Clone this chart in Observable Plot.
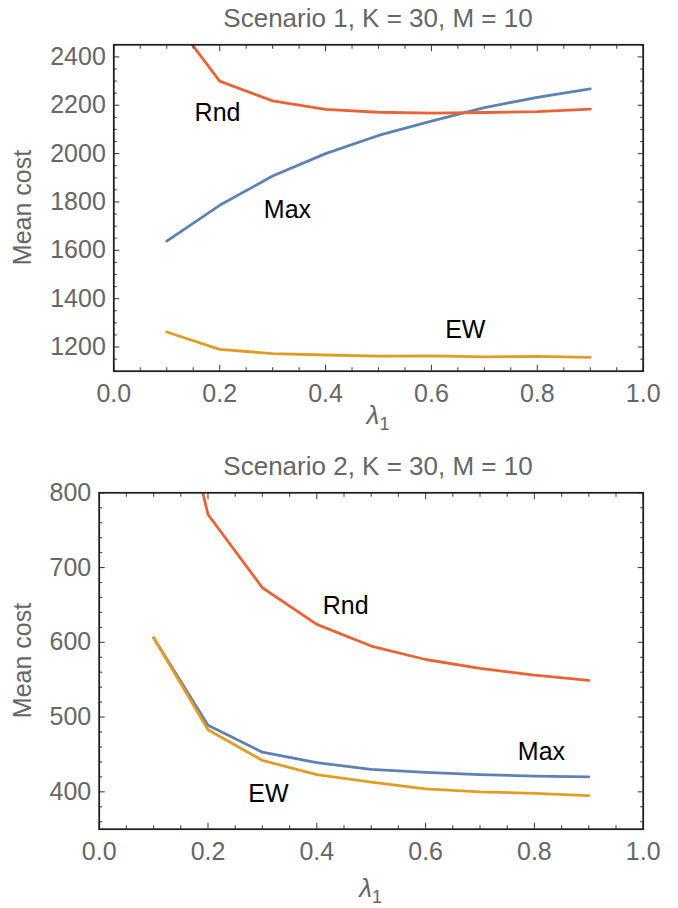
<!DOCTYPE html>
<html><head><meta charset="utf-8">
<script src="https://cdn.jsdelivr.net/npm/d3@7"></script>
<script src="https://cdn.jsdelivr.net/npm/@observablehq/plot@0.6"></script>
<style>
body{margin:0;background:#fff;font-family:"Liberation Sans",Arial,sans-serif;}
#wrap{position:relative;width:678px;height:908px;overflow:hidden;background:#fff}
.panel{position:absolute;left:0}
.title{position:absolute;left:113px;width:530px;text-align:center;font-size:26px;line-height:26px;color:#666;white-space:nowrap}
.xlab{position:absolute;left:113px;width:530px;text-align:center;font-size:26px;line-height:26px;color:#666;white-space:nowrap}
.xlab i{font-style:italic}
.xlab sub{font-size:18px;vertical-align:-6px;line-height:0}
.ylab{position:absolute;width:200px;text-align:center;font-size:25px;line-height:25px;color:#666;white-space:nowrap;transform:rotate(-90deg)}
</style></head><body><div id="wrap"></div><script>
// ---- data ----
const lambdas = [0.1, 0.2, 0.3, 0.4, 0.5, 0.6, 0.7, 0.8, 0.9];
const s1Max = [1638, 1786, 1907, 2000, 2075, 2134, 2190, 2233, 2268];
const s1EW  = [1262, 1190, 1173, 1167, 1162, 1163, 1159, 1161, 1157];
const s1Rnd = [2590, 2300, 2218, 2183, 2171, 2167, 2170, 2174, 2184];
const s2Max = [606, 489, 453, 439, 430, 426, 423, 421, 420];
const s2EW  = [606, 483, 442, 423, 413, 404, 400, 398, 395];
const s2Rnd = [1075, 771, 673, 624, 595, 577, 565, 556, 549];
const seriesNames = ["Max", "EW", "Rnd"];
const seriesColors = ["#5E81B5", "#E19C24", "#EB6235"];
const labels1 = [{name: "Rnd", lambda: 0.196, cost: 2166}, {name: "Max", lambda: 0.328, cost: 1765}, {name: "EW", lambda: 0.664, cost: 1269}];
const labels2 = [{name: "Rnd", lambda: 0.453, cost: 649}, {name: "Max", lambda: 0.813, cost: 453}, {name: "EW", lambda: 0.311, cost: 397}];
const titles = ["Scenario 1, K = 30, M = 10", "Scenario 2, K = 30, M = 10"];
const yLabel = "Mean cost";
const xMajor = [0, 0.2, 0.4, 0.6, 0.8, 1.0];
const xMinor = d3.range(0, 21).filter(i => i % 4 !== 0).map(i => i / 20);
const y1Major = [1200, 1400, 1600, 1800, 2000, 2200, 2400];
const y1Minor = d3.range(1100, 2451, 50).filter(v => v % 200 !== 0);
const y2Major = [400, 500, 600, 700, 800];
const y2Minor = d3.range(360, 801, 20).filter(v => v % 100 !== 0);

function rowsOf(a, b, c) {
  const out = [];
  [[seriesNames[0], a], [seriesNames[1], b], [seriesNames[2], c]].forEach(([s, vals]) =>
    vals.forEach((v, i) => out.push({series: s, lambda: lambdas[i], cost: v})));
  return out;
}

const tickStroke = "#444";
function tickAxes(yMajor, yMinor) {
  const o = {fill: "none", stroke: tickStroke, strokeWidth: 1.1, label: null};
  return [
    Plot.axisX(xMajor, {...o, anchor: "bottom", tickSize: -6}),
    Plot.axisX(xMinor, {...o, anchor: "bottom", tickSize: -3.5}),
    Plot.axisX(xMajor, {...o, anchor: "top", tickSize: -6}),
    Plot.axisX(xMinor, {...o, anchor: "top", tickSize: -3.5}),
    Plot.axisY(yMajor, {...o, anchor: "left", tickSize: -6}),
    Plot.axisY(yMinor, {...o, anchor: "left", tickSize: -3.5}),
    Plot.axisY(yMajor, {...o, anchor: "right", tickSize: -6}),
    Plot.axisY(yMinor, {...o, anchor: "right", tickSize: -3.5})
  ];
}

function panel({rows, labels, yDomain, yMajor, yMinor, mt, mb, ml, mr, height}) {
  return Plot.plot({
    width: 678, height,
    marginTop: mt, marginBottom: mb, marginLeft: ml, marginRight: mr,
    style: {fontFamily: '"Liberation Sans", Arial, sans-serif', background: "transparent", overflow: "visible"},
    x: {domain: [0, 1]},
    y: {domain: yDomain},
    color: {domain: seriesNames, range: seriesColors},
    marks: [
      Plot.line(rows, {x: "lambda", y: "cost", z: "series", stroke: "series", strokeWidth: 2.8, clip: true}),
      Plot.text(labels, {x: "lambda", y: "cost", text: "name", fontSize: 25, fill: "#000"}),
      ...tickAxes(yMajor, yMinor),
      Plot.axisX(xMajor, {anchor: "bottom", tickSize: 0, tickPadding: 13, fill: "#666", fontSize: 25, tickFormat: d => d.toFixed(1), label: null}),
      Plot.axisY(yMajor, {anchor: "left", tickSize: 0, tickPadding: 8, fill: "#666", fontSize: 25, tickFormat: d => String(d), label: null}),
      Plot.frame({stroke: "#222", strokeWidth: 1.8})
    ]
  });
}

const wrap = document.getElementById("wrap");
const p1 = panel({rows: rowsOf(s1Max, s1EW, s1Rnd), labels: labels1, yDomain: [1100, 2450], yMajor: y1Major, yMinor: y1Minor,
  mt: 44.3, mb: 83.3, ml: 113.3, mr: 35.3, height: 454});
p1.classList.add("panel"); p1.style.top = "0px";
const p2 = panel({rows: rowsOf(s2Max, s2EW, s2Rnd), labels: labels2, yDomain: [350, 800], yMajor: y2Major, yMinor: y2Minor,
  mt: 38.3, mb: 79.3, ml: 98.7, mr: 35.3, height: 454});
p2.classList.add("panel"); p2.style.top = "454px";
wrap.appendChild(p1); wrap.appendChild(p2);

function addTitle(text, top) {
  const d = document.createElement("div"); d.className = "title"; d.textContent = text; d.style.top = top + "px"; wrap.appendChild(d);
}
function addXLab(top, left, width) {
  const d = document.createElement("div"); d.className = "xlab"; d.innerHTML = "<i>λ</i><sub>1</sub>";
  d.style.top = top + "px"; d.style.left = left + "px"; d.style.width = width + "px"; wrap.appendChild(d);
}
function addYLab(cx, cy) {
  const d = document.createElement("div"); d.className = "ylab"; d.textContent = yLabel;
  d.style.left = (cx - 100) + "px"; d.style.top = (cy - 12.5) + "px"; wrap.appendChild(d);
}
addTitle(titles[0], 5);
addTitle(titles[1], 453);
addXLab(402, 113.3, 529.4);
addXLab(875, 98.7, 544);
addYLab(22.3, 207.5);
addYLab(22.3, 660.5);
</script></body></html>
